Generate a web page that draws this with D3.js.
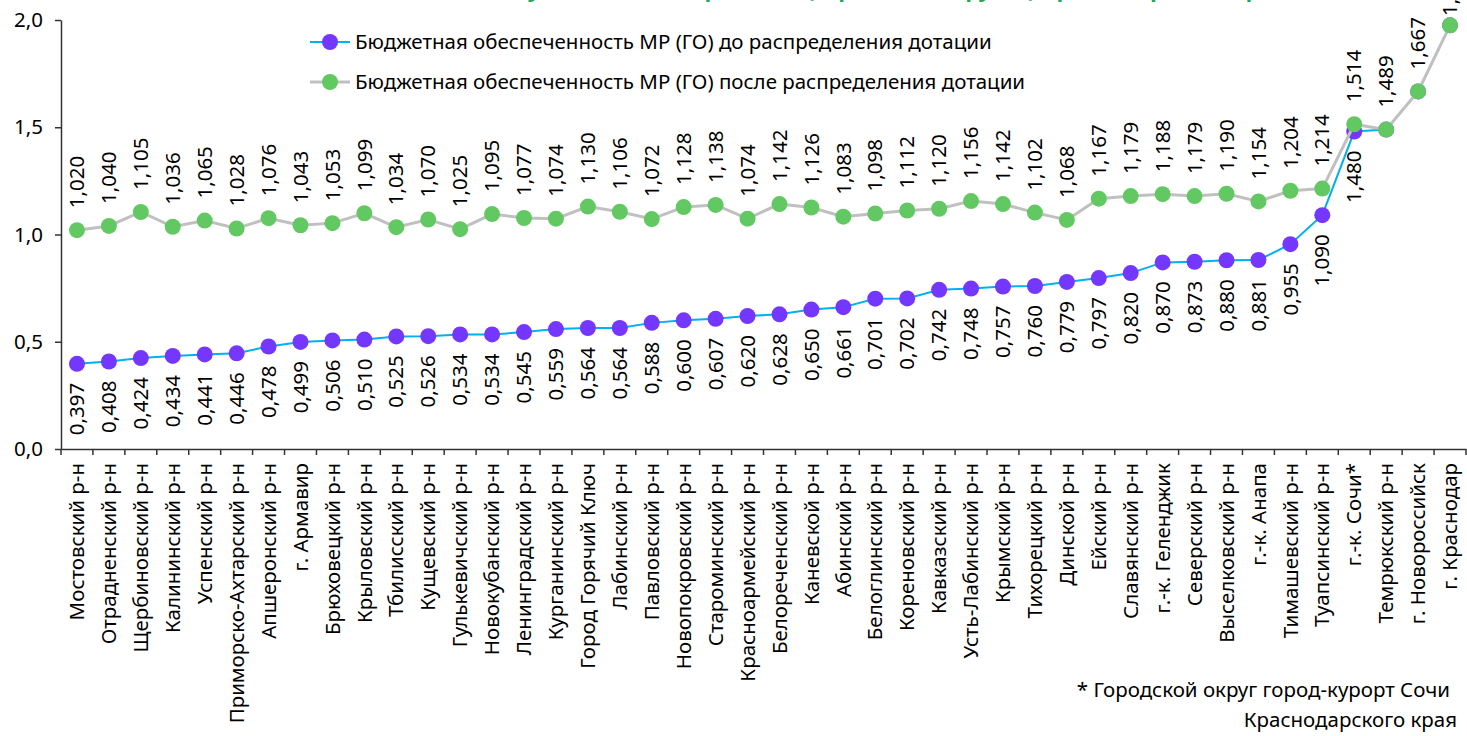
<!DOCTYPE html>
<html lang="ru">
<head>
<meta charset="UTF-8">
<title>Бюджетная обеспеченность МР (ГО)</title>
<script src="https://d3js.org/d3.v7.min.js"></script>
<style>
    body { margin: 0; background: #fff; }
    svg { display: block; font-family: "Noto Sans", "Open Sans", sans-serif; }
    .axis path, .axis line { stroke: #333; stroke-width: 1.5px; }
    .axis text { fill: #000; font-size: 20.5px; font-family: "Noto Sans", sans-serif; }
    .lbl { font-size: 20.5px; fill: #000; }
</style>
</head>
<body>
<div id="chart"></div>
<script>
    var districts = ["Мостовский р-н", "Отрадненский р-н", "Щербиновский р-н", "Калининский р-н", "Успенский р-н",
        "Приморско-Ахтарский р-н", "Апшеронский р-н", "г. Армавир", "Брюховецкий р-н", "Крыловский р-н",
        "Тбилисский р-н", "Кущевский р-н", "Гулькевичский р-н", "Новокубанский р-н", "Ленинградский р-н",
        "Курганинский р-н", "Город Горячий Ключ", "Лабинский р-н", "Павловский р-н", "Новопокровский р-н",
        "Староминский р-н", "Красноармейский р-н", "Белореченский р-н", "Каневской р-н", "Абинский р-н",
        "Белоглинский р-н", "Кореновский р-н", "Кавказский р-н", "Усть-Лабинский р-н", "Крымский р-н",
        "Тихорецкий р-н", "Динской р-н", "Ейский р-н", "Славянский р-н", "г.-к. Геленджик",
        "Северский р-н", "Выселковский р-н", "г.-к. Анапа", "Тимашевский р-н", "Туапсинский р-н",
        "г.-к. Сочи*", "Темрюкский р-н", "г. Новороссийск", "г. Краснодар"];

    var beforeGrant = [0.397, 0.408, 0.424, 0.434, 0.441, 0.446, 0.478, 0.499, 0.506, 0.510,
        0.525, 0.526, 0.534, 0.534, 0.545, 0.559, 0.564, 0.564, 0.588, 0.600,
        0.607, 0.620, 0.628, 0.650, 0.661, 0.701, 0.702, 0.742, 0.748, 0.757,
        0.760, 0.779, 0.797, 0.820, 0.870, 0.873, 0.880, 0.881, 0.955, 1.090,
        1.480, 1.489, 1.667, 1.975];

    var afterGrant = [1.020, 1.040, 1.105, 1.036, 1.065, 1.028, 1.076, 1.043, 1.053, 1.099,
        1.034, 1.070, 1.025, 1.095, 1.077, 1.074, 1.130, 1.106, 1.072, 1.128,
        1.138, 1.074, 1.142, 1.126, 1.083, 1.098, 1.112, 1.120, 1.156, 1.142,
        1.102, 1.068, 1.167, 1.179, 1.188, 1.179, 1.190, 1.154, 1.204, 1.214,
        1.514, 1.489, 1.667, 1.975];

    var yTicks = [0, 0.5, 1.0, 1.5, 2.0];
    var seriesNames = ["Бюджетная обеспеченность МР (ГО) до распределения дотации",
        "Бюджетная обеспеченность МР (ГО) после распределения дотации"];
    var titleText = "Бюджетная обеспеченность муниципальных районов (городских округов) Краснодарского края";
    var footnote = ["* Городской округ город-курорт Сочи", "Краснодарского края"];

    var W = 1467, H = 736;
    var margin = {top: 20, right: 1, bottom: 287, left: 61};
    var w = W - margin.left - margin.right, h = H - margin.top - margin.bottom;

    var fmt3 = d => d3.format(".3f")(d).replace(".", ",");
    var fmt1 = d => d3.format(".1f")(d).replace(".", ",");

    var svg = d3.select("#chart").append("svg")
        .attr("width", W)
        .attr("height", H);

    // title is cut by the top edge in the original
    svg.append("text")
        .attr("x", 735)
        .attr("y", -3)
        .attr("text-anchor", "middle")
        .style("font-size", "22px")
        .style("font-weight", "bold")
        .style("fill", "#1fa84f")
        .text(titleText);

    var g = svg.append("g").attr("transform", "translate(" + margin.left + "," + margin.top + ")");

    var x = d3.scaleBand().domain(districts).range([0, w]);
    var y = d3.scaleLinear().domain([0, 2]).range([h, 0]);

    // axes
    g.append("g").attr("class", "axis")
        .call(d3.axisLeft(y).tickValues(yTicks).tickFormat(fmt1).tickSize(6).tickSizeOuter(0).tickPadding(12));

    var xAxis = g.append("g").attr("class", "axis")
        .attr("transform", "translate(0," + h + ")")
        .call(d3.axisBottom(x).tickSize(0).tickSizeOuter(0).tickFormat(""));

    // ticks at band boundaries
    xAxis.selectAll(".sep")
        .data(d3.range(districts.length + 1))
        .enter().append("line")
        .attr("x1", i => i * x.bandwidth())
        .attr("x2", i => i * x.bandwidth())
        .attr("y1", 0)
        .attr("y2", 6);

    g.append("g").selectAll("text")
        .data(districts)
        .enter().append("text")
        .attr("class", "lbl")
        .attr("transform", d => "translate(" + (x(d) + x.bandwidth() / 2) + "," + (h + 14) + ") rotate(-90)")
        .attr("dy", "0.35em")
        .attr("text-anchor", "end")
        .text(d => d);

    var cx = i => x(districts[i]) + x.bandwidth() / 2;

    var line = d3.line().x((d, i) => cx(i)).y(d => y(d));

    // before grant series
    g.append("path")
        .datum(beforeGrant)
        .attr("fill", "none")
        .attr("stroke", "#00b0f0")
        .attr("stroke-width", 2)
        .attr("d", line);

    g.append("g").selectAll("circle")
        .data(beforeGrant)
        .enter().append("circle")
        .attr("cx", (d, i) => cx(i))
        .attr("cy", d => y(d))
        .attr("r", 8)
        .attr("fill", "#7337ff");

    // after grant series
    g.append("path")
        .datum(afterGrant)
        .attr("fill", "none")
        .attr("stroke", "#c0c0c0")
        .attr("stroke-width", 3)
        .attr("d", line);

    g.append("g").selectAll("circle")
        .data(afterGrant)
        .enter().append("circle")
        .attr("cx", (d, i) => cx(i))
        .attr("cy", d => y(d))
        .attr("r", 8)
        .attr("fill", "#62c962");

    // data labels
    g.append("g").selectAll("text")
        .data(beforeGrant.map((v, i) => ({v: v, i: i})).filter(d => d.v !== afterGrant[d.i]))
        .enter().append("text")
        .attr("class", "lbl")
        .attr("transform", d => "translate(" + cx(d.i) + "," + (y(d.v) + 19) + ") rotate(-90)")
        .attr("dy", "0.35em")
        .attr("text-anchor", "end")
        .text(d => fmt3(d.v));

    // the top label gets pushed down against the chart edge, like in the source
    g.append("g").selectAll("text")
        .data(afterGrant)
        .enter().append("text")
        .attr("class", "lbl")
        .attr("transform", (d, i) => "translate(" + cx(i) + "," + Math.max(y(d) - 22, -4) + ") rotate(-90)")
        .attr("dy", "0.35em")
        .attr("text-anchor", "start")
        .text(d => fmt3(d));

    // legend
    var legend = svg.append("g").attr("transform", "translate(310,42)");
    var colors = [["#00b0f0", "#7337ff"], ["#c0c0c0", "#62c962"]];
    seriesNames.forEach(function(name, k) {
        var row = legend.append("g").attr("transform", "translate(0," + (k * 40) + ")");
        row.append("line")
            .attr("x1", 0).attr("x2", 40)
            .attr("stroke", colors[k][0])
            .attr("stroke-width", k ? 3 : 2);
        row.append("circle")
            .attr("cx", 20).attr("r", 8)
            .attr("fill", colors[k][1]);
        row.append("text")
            .attr("class", "lbl")
            .attr("x", 45)
            .attr("dy", "0.35em")
            .text(name);
    });

    // footnote
    svg.append("text").attr("class", "lbl")
        .attr("x", 1450).attr("y", 697)
        .attr("text-anchor", "end")
        .text(footnote[0]);
    svg.append("text").attr("class", "lbl")
        .attr("x", 1457).attr("y", 727)
        .attr("text-anchor", "end")
        .text(footnote[1]);
</script>
</body>
</html>
